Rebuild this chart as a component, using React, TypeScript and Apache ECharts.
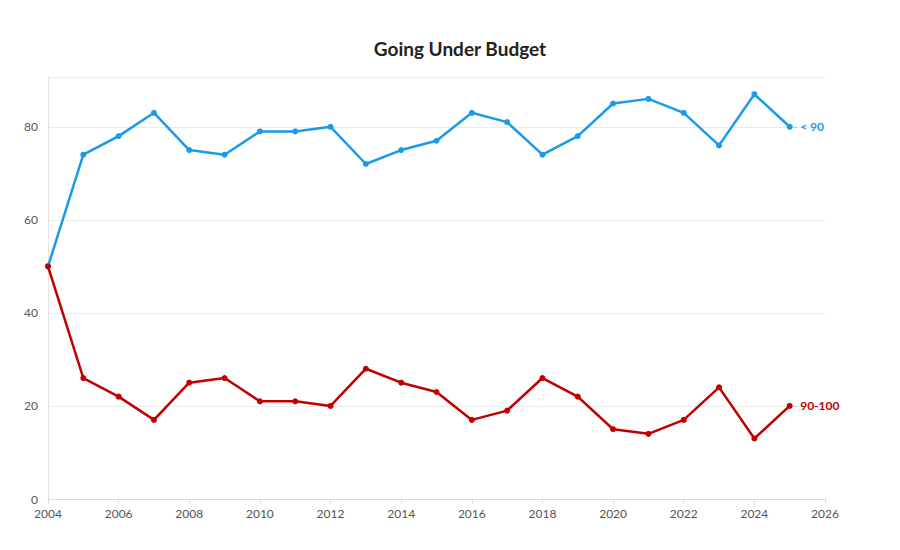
import React, { useEffect, useRef } from "react";
import * as echarts from "echarts";

const years = [2004, 2005, 2006, 2007, 2008, 2009, 2010, 2011, 2012, 2013, 2014, 2015, 2016, 2017, 2018, 2019, 2020, 2021, 2022, 2023, 2024, 2025];
const under90 = [50, 74, 78, 83, 75, 74, 79, 79, 80, 72, 75, 77, 83, 81, 74, 78, 85, 86, 83, 76, 87, 80];
const from90to100 = [50, 26, 22, 17, 25, 26, 21, 21, 20, 28, 25, 23, 17, 19, 26, 22, 15, 14, 17, 24, 13, 20];
const seriesNames = ["< 90", "90-100"];
const seriesColors = ["#1a9bea", "#c00000"];

const FONT = "Lato, 'Open Sans', sans-serif";

export default function App() {
  const ref = useRef<HTMLDivElement>(null);
  useEffect(() => {
    if (!ref.current) return;
    const chart = echarts.init(ref.current, undefined, { renderer: "svg" });
    const mk = (name: string, vals: number[], color: string) => ({
      type: "line",
      name,
      data: years.map((y, i) => [y, vals[i]]),
      symbol: "circle",
      symbolSize: 6,
      lineStyle: { width: 2.5, color },
      itemStyle: { color },
      endLabel: {
        show: true,
        distance: 3,
        formatter: () => `{d|- }{n|${name}}`,
        rich: {
          d: { color: "#bbbbbb", fontSize: 12, fontFamily: FONT },
          n: { color, fontSize: 12, fontWeight: "bold", fontFamily: FONT },
        },
      },
    });
    chart.setOption({
      animation: false,
      backgroundColor: "#ffffff",
      title: {
        text: "Going Under Budget",
        left: 455,
        top: 34,
        textAlign: "center",
        textStyle: { fontFamily: FONT, fontSize: 19, fontWeight: "bold", color: "#222222" },
      },
      grid: { left: 48, right: 75, top: 77, bottom: 51, containLabel: false },
      xAxis: {
        type: "value",
        min: 2004,
        max: 2026,
        interval: 2,
        axisLine: { show: true, lineStyle: { color: "#dddddd" } },
        axisTick: { show: true, length: 5, lineStyle: { color: "#dddddd" } },
        splitLine: { show: false },
        axisLabel: { color: "#555555", fontSize: 12, fontFamily: FONT, formatter: (v: number) => String(v) },
      },
      yAxis: {
        type: "value",
        min: 0,
        max: 90.7,
        interval: 20,
        axisLine: { show: true, lineStyle: { color: "#e4e4e4" } },
        axisTick: { show: false },
        splitLine: { show: true, lineStyle: { color: "#ebebeb" } },
        axisLabel: {
          color: "#555555",
          fontSize: 12,
          fontFamily: FONT,
          margin: 10,
          showMaxLabel: false,
          formatter: (v: number) => (v % 20 === 0 ? String(v) : ""),
        },
      },
      series: [
        mk(seriesNames[0], under90, seriesColors[0]),
        mk(seriesNames[1], from90to100, seriesColors[1]),
      ],
    });
    return () => chart.dispose();
  }, []);
  return <div ref={ref} style={{ width: 900, height: 550, margin: -8 }} />;
}
